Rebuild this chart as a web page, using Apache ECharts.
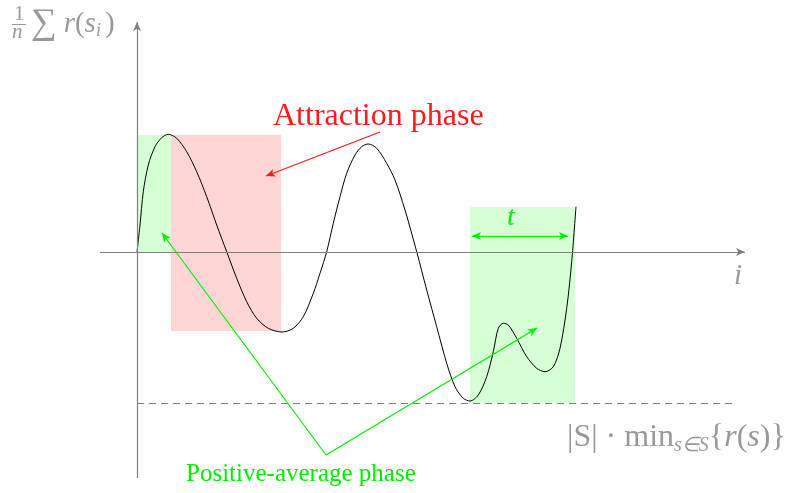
<!DOCTYPE html>
<html>
<head>
<meta charset="utf-8">
<script src="https://cdn.jsdelivr.net/npm/echarts@6/dist/echarts.min.js"></script>
<style>
  html, body { margin: 0; padding: 0; background: #fff; }
  #chart { width: 793px; height: 493px; }
</style>
</head>
<body>
<div id="chart"></div>
<script>
// curve samples (x = step i, y = average reward)
const curveX = [0, 3, 6.3, 11.3, 18, 24.7, 31.3, 39.7, 49.7, 59.7, 69.7, 79.7, 89.7, 99.7, 109.7, 119.7, 131.3, 145, 156.3, 166.3, 176.3, 183, 189.7, 196.3, 203, 209.7, 218, 224.7, 231.3, 239.7, 249.7, 258, 268, 279.7, 289.7, 299.7, 309.7, 318, 326.3, 333, 341.3, 349.7, 356.3, 361.3, 366.3, 371.3, 379.7, 389.7, 399.7, 408, 416.3, 423, 429.7, 434.7, 439]
const curveY = [0, 27, 60.3, 87, 105.3, 114.3, 117.7, 113.7, 100.3, 80.3, 55.3, 27, 0.3, -26.3, -49.7, -66.3, -76.3, -80, -76.3, -64.7, -41.3, -21.3, 0.3, 28.7, 55.3, 78.7, 97, 105.3, 108, 103.7, 88.7, 72, 42, 0.3, -38, -74.7, -111.3, -134.7, -146.3, -149, -143, -124.7, -99.7, -76.3, -71.3, -73, -86.3, -104.7, -116.3, -119.7, -114.7, -96.3, -56.3, -9.7, 45.3]

// phase boxes [x0, y0, x1, y1]
const positiveBoxes = [[0, 117, 34, 0], [333, 45, 438, -151]]
const attractionBox = [34, 117, 144, -79]

// lower bound |S|·min r(s)
const minLevel = -151
const minLineEnd = 598

// axes extents
const xAxisSpan = [-37, 608]
const yAxisSpan = [-226, 230]

// annotation arrows
const attractionArrow = [[243, 120], [129, 76]]
const positiveApex = [189, -203]
const positiveTargets = [[25, 19], [400, -76]]
const tSpan = [[335, 16], [431, 16]]

const gray = '#808080'
const textGray = '#999999'
const green = '#00ee00'
const red = '#ff1a1a'
const serif = 'Liberation Serif'

const chart = echarts.init(document.getElementById('chart'))

const curve = curveX.map((x, i) => [x, curveY[i]])

// rich text piece helpers
const up = (size) => ({ fontSize: size, fontFamily: serif, fill: textGray })
const it = (size) => ({ fontSize: size, fontFamily: serif, fontStyle: 'italic', fill: textGray })

const option = {
    backgroundColor: '#ffffff',
    animation: false,
    grid: { left: 0, right: 0, top: 0, bottom: 0 },
    xAxis: { type: 'value', min: -137, max: 656, show: false },
    yAxis: { type: 'value', min: -241, max: 252, show: false },
    series: [
        {
            // phase areas + the dashed bound
            type: 'line',
            data: [],
            z: 1,
            markArea: {
                silent: true,
                data: [
                    ...positiveBoxes.map(b => [
                        { coord: [b[0], b[1]], itemStyle: { color: 'rgba(0,255,0,0.16)' } },
                        { coord: [b[2], b[3]] }
                    ]),
                    [
                        { coord: [attractionBox[0], attractionBox[1]], itemStyle: { color: 'rgba(255,0,0,0.16)' } },
                        { coord: [attractionBox[2], attractionBox[3]] }
                    ]
                ]
            },
            markLine: {
                silent: true,
                symbol: ['none', 'none'],
                label: { show: false },
                lineStyle: { color: gray, type: [7, 5], width: 1 },
                data: [[{ coord: [0, minLevel] }, { coord: [minLineEnd, minLevel] }]]
            }
        },
        {
            // axes
            type: 'line',
            data: [],
            z: 3,
            markLine: {
                silent: true,
                symbol: ['none', 'arrow'],
                symbolSize: [6, 9],
                label: { show: false },
                lineStyle: { color: gray, type: 'solid', width: 1.2 },
                data: [
                    [{ coord: [xAxisSpan[0], 0] }, { coord: [xAxisSpan[1], 0] }],
                    [{ coord: [0, yAxisSpan[0]] }, { coord: [0, yAxisSpan[1]] }]
                ]
            }
        },
        {
            type: 'line',
            data: curve,
            smooth: 0.3,
            showSymbol: false,
            z: 4,
            lineStyle: { color: '#000', width: 1 }
        },
        {
            // annotation arrows
            type: 'line',
            data: [],
            z: 5,
            markLine: {
                silent: true,
                symbol: ['none', 'arrow'],
                symbolSize: [6, 9],
                label: { show: false },
                data: [
                    [{ coord: attractionArrow[0], lineStyle: { color: red, width: 1.2, type: 'solid' } }, { coord: attractionArrow[1] }],
                    ...positiveTargets.map(t => [
                        { coord: positiveApex, lineStyle: { color: green, width: 1.2, type: 'solid' } },
                        { coord: t }
                    ]),
                    [{ coord: tSpan[0], symbol: 'arrow', lineStyle: { color: green, width: 1.2, type: 'solid' } }, { coord: tSpan[1] }]
                ]
            }
        }
    ],
    graphic: [
        // y label: 1/n Σ r(s_i)
        { type: 'text', left: 14, top: 4, style: { text: '1', fontSize: 21, fontFamily: serif, fill: textGray } },
        { type: 'line', shape: { x1: 12, y1: 24.5, x2: 26, y2: 24.5 }, style: { stroke: textGray, lineWidth: 1 } },
        { type: 'text', left: 12, top: 22, style: { text: 'n', fontSize: 21, fontFamily: serif, fontStyle: 'italic', fill: textGray } },
        {
            type: 'text', left: 31, top: 6,
            style: {
                text: '{s|∑}{i|r}{p|(}{i|s}{b|i}{p|)}',
                fontSize: 29, fontFamily: serif, fill: textGray,
                rich: {
                    s: Object.assign(up(36), { padding: [0, 7, 0, 0] }),
                    i: it(29),
                    p: up(29),
                    b: Object.assign(it(18), { padding: [14, 4, 0, 0] })
                }
            }
        },
        { type: 'text', left: 734, top: 262, style: { text: 'i', fontSize: 29, fontFamily: serif, fontStyle: 'italic', fill: textGray } },
        {
            type: 'text', left: 567, top: 422,
            style: {
                text: '{p||S| · min}{b|s∈S}{p|{}{i|r}{p|(}{i|s}{p|)}}',
                fontSize: 32, fontFamily: serif, fill: textGray,
                rich: {
                    p: up(32),
                    i: it(32),
                    b: Object.assign(it(20), { padding: [15, 0, 0, 0] })
                }
            }
        },
        { type: 'text', left: 273, top: 101, style: { text: 'Attraction phase', fontSize: 32, fontFamily: serif, fill: red } },
        { type: 'text', left: 186, top: 462, style: { text: 'Positive-average phase', fontSize: 25, fontFamily: serif, fill: green } },
        { type: 'text', left: 507, top: 204, style: { text: 't', fontSize: 28, fontFamily: serif, fontStyle: 'italic', fill: green } }
    ]
}

chart.setOption(option)
</script>
</body>
</html>
